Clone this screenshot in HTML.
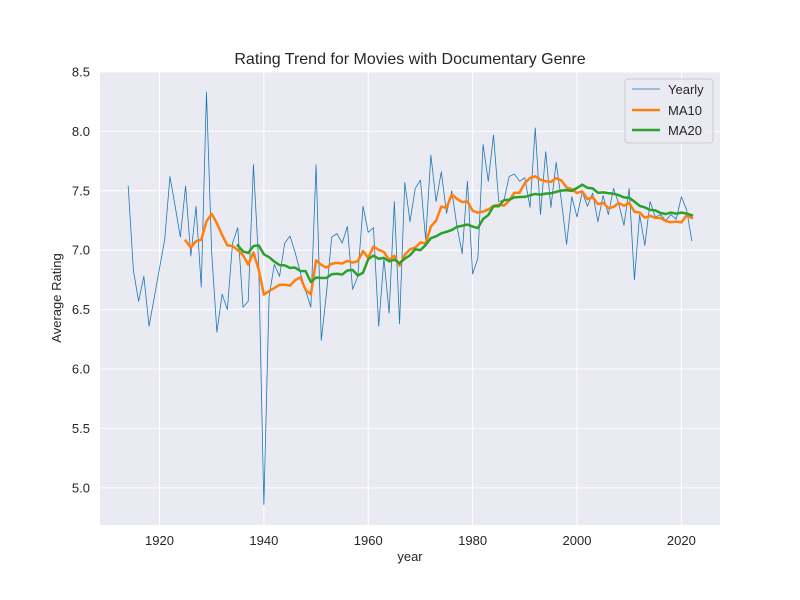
<!DOCTYPE html>
<html><head><meta charset="utf-8"><style>
body{margin:0;background:#fff;}
svg{display:block;font-family:"Liberation Sans","DejaVu Sans",sans-serif;}
</style></head><body>
<svg id="chart" width="800" height="600">
<rect x="0" y="0" width="800" height="600" fill="#fff"/>
<rect x="100" y="72" width="620" height="453" fill="#eaeaf2"/>
<g id="grid"></g>
<g id="series"></g>
<g id="ticks"></g>
<text x="410" y="64" text-anchor="middle" font-size="16" fill="#262626">Rating Trend for Movies with Documentary Genre</text>
<text x="410" y="561" text-anchor="middle" font-size="13" fill="#262626">year</text>
<text x="61" y="298" text-anchor="middle" font-size="13" fill="#262626" transform="rotate(-90 61 298)">Average Rating</text>
<g>
<rect x="625" y="79" width="88" height="64" rx="3" fill="#eaeaf2" fill-opacity="0.8" stroke="#cccccc" stroke-width="1"/>
<line x1="632" y1="89" x2="660" y2="89" stroke="#1f77b4" stroke-width="0.8"/>
<text x="668" y="94" font-size="13" fill="#262626">Yearly</text>
<line x1="632" y1="110" x2="660" y2="110" stroke="#ff7f0e" stroke-width="2.5"/>
<text x="668" y="115" font-size="13" fill="#262626">MA10</text>
<line x1="632" y1="130" x2="660" y2="130" stroke="#2ca02c" stroke-width="2.5"/>
<text x="668" y="135" font-size="13" fill="#262626">MA20</text>
</g>
</svg>
<script>
const years = [1914,1915,1916,1917,1918,1921,1922,1923,1924,1925,1926,1927,1928,1929,1930,1931,1932,1933,1934,1935,1936,1937,1938,1939,1940,1941,1942,1943,1944,1945,1946,1947,1948,1949,1950,1951,1952,1953,1954,1955,1956,1957,1958,1959,1960,1961,1962,1963,1964,1965,1966,1967,1968,1969,1970,1971,1972,1973,1974,1975,1976,1977,1978,1979,1980,1981,1982,1983,1984,1985,1986,1987,1988,1989,1990,1991,1992,1993,1994,1995,1996,1997,1998,1999,2000,2001,2002,2003,2004,2005,2006,2007,2008,2009,2010,2011,2012,2013,2014,2015,2016,2017,2018,2019,2020,2021,2022];
const ratings = [7.54,6.83,6.57,6.78,6.36,7.09,7.62,7.37,7.11,7.54,6.95,7.37,6.69,8.33,6.98,6.31,6.63,6.50,7.06,7.19,6.52,6.57,7.72,6.90,4.86,6.61,6.88,6.78,7.06,7.12,6.98,6.81,6.66,6.52,7.72,6.24,6.64,7.11,7.14,7.06,7.20,6.67,6.78,7.37,7.15,7.19,6.36,6.93,6.47,7.41,6.38,7.57,7.24,7.52,7.59,7.09,7.80,7.41,7.66,7.31,7.50,7.20,6.97,7.58,6.80,6.93,7.89,7.58,7.97,7.41,7.42,7.62,7.64,7.58,7.61,7.36,8.03,7.30,7.83,7.36,7.74,7.42,7.05,7.45,7.28,7.49,7.37,7.48,7.24,7.46,7.30,7.52,7.39,7.21,7.52,6.75,7.30,7.04,7.41,7.28,7.30,7.25,7.30,7.26,7.45,7.34,7.08];
const xTicks = [1920,1940,1960,1980,2000,2020];
const yTicks = [5.0,5.5,6.0,6.5,7.0,7.5,8.0,8.5];
const NS='http://www.w3.org/2000/svg';
const xMin=1908.6, xMax=2027.4, yMin=4.687, yMax=8.5;
const X=v=>100+(v-xMin)/(xMax-xMin)*620;
const Y=v=>525-(v-yMin)/(yMax-yMin)*453;
function mk(tag,attrs,parent){const e=document.createElementNS(NS,tag);for(const k in attrs)e.setAttribute(k,attrs[k]);parent.appendChild(e);return e;}
const grid=document.getElementById('grid'),ticks=document.getElementById('ticks'),series=document.getElementById('series');
xTicks.forEach(t=>{
  const l=mk('line',{x1:X(t),x2:X(t),y1:72,y2:525,stroke:'#fff','stroke-width':1},grid);
  
  
  const tx=mk('text',{x:X(t),y:545,'text-anchor':'middle','font-size':13,fill:'#262626'},ticks);
  tx.textContent=t;
  
  
});
yTicks.forEach(t=>{
  const l=mk('line',{x1:100,x2:720,y1:Y(t),y2:Y(t),stroke:'#fff','stroke-width':1},grid);
  
  
  const tx=mk('text',{x:90,y:Y(t)+4.5,'text-anchor':'end','font-size':13,fill:'#262626'},ticks);
  tx.textContent=t.toFixed(1);
  
  
});
function rolling(w){const out=[];for(let i=w-1;i<ratings.length;i++){let s=0;for(let j=i-w+1;j<=i;j++)s+=ratings[j];out.push([years[i],s/w]);}return out;}
function path(pts,color,width,name){
  const d=pts.map((p,i)=>(i?'L':'M')+X(p[0]).toFixed(2)+','+Y(p[1]).toFixed(2)).join(' ');
  const p=mk('path',{d:d,fill:'none',stroke:color,'stroke-width':width,'stroke-linejoin':'round','stroke-linecap':'square'},series);
  
  
}
path(years.map((y,i)=>[y,ratings[i]]),'#1f77b4',0.8,'yearly-line');
path(rolling(10),'#ff7f0e',2.5,'ma10-line');
path(rolling(20),'#2ca02c',2.5,'ma20-line');
</script>
</body></html>
